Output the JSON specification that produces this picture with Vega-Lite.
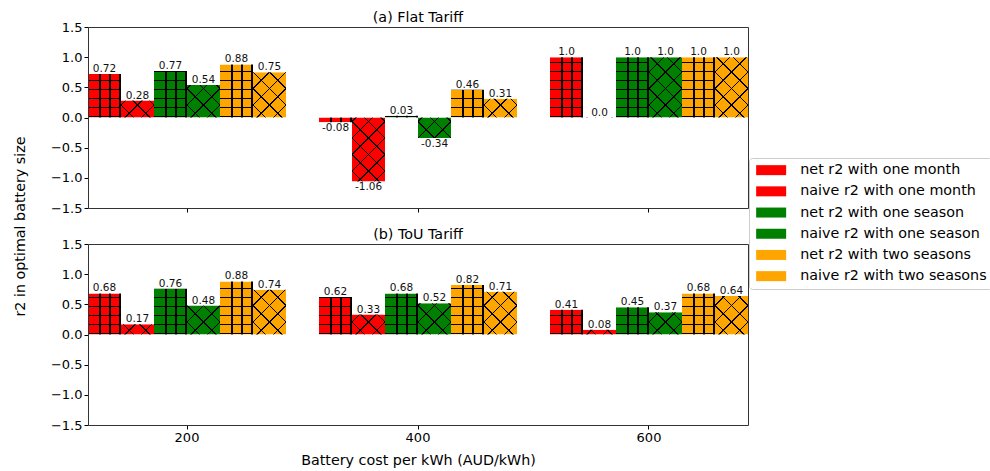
{
  "$schema": "https://vega.github.io/schema/vega-lite/v6.json",
  "padding": {"left": 13, "top": 10, "right": 2, "bottom": 5},
  "bounds": "flush",
  "spacing": 36,
  "config": {
    "font": "DejaVu Sans",
    "view": {"stroke": null},
    "axis": {"labelFont": "DejaVu Sans", "labelFontSize": 13, "labelColor": "#000", "titleFont": "DejaVu Sans", "titleFontSize": 14.3, "titleFontWeight": "normal", "titleColor": "#000", "tickColor": "#000", "tickSize": 4, "domain": true, "domainColor": "#333", "domainWidth": 1, "grid": false, "labelPadding": 2},
    "title": {"font": "DejaVu Sans", "fontSize": 14.3, "fontWeight": "normal", "color": "#000", "offset": -4},
    "legend": {"labelFont": "DejaVu Sans", "labelFontSize": 14.3, "labelColor": "#000", "labelLimit": 400, "symbolType": "M-1,-1H5V1H-1Z", "symbolSize": 100, "symbolStrokeWidth": 0, "symbolOpacity": 1, "labelOffset": 32, "rowPadding": 6.2, "padding": 5, "strokeColor": "#cccccc", "cornerRadius": 3, "fillColor": "#ffffff"}
  },
  "data": {"values": [
    {"tariff": "Flat", "cost": 200, "series": "net r2 with one month", "type": "net", "value": 0.72, "label": "0.72"},
    {"tariff": "Flat", "cost": 200, "series": "naive r2 with one month", "type": "naive", "value": 0.28, "label": "0.28"},
    {"tariff": "Flat", "cost": 200, "series": "net r2 with one season", "type": "net", "value": 0.77, "label": "0.77"},
    {"tariff": "Flat", "cost": 200, "series": "naive r2 with one season", "type": "naive", "value": 0.54, "label": "0.54"},
    {"tariff": "Flat", "cost": 200, "series": "net r2 with two seasons", "type": "net", "value": 0.88, "label": "0.88"},
    {"tariff": "Flat", "cost": 200, "series": "naive r2 with two seasons", "type": "naive", "value": 0.75, "label": "0.75"},
    {"tariff": "Flat", "cost": 400, "series": "net r2 with one month", "type": "net", "value": -0.08, "label": "-0.08"},
    {"tariff": "Flat", "cost": 400, "series": "naive r2 with one month", "type": "naive", "value": -1.06, "label": "-1.06"},
    {"tariff": "Flat", "cost": 400, "series": "net r2 with one season", "type": "net", "value": 0.03, "label": "0.03"},
    {"tariff": "Flat", "cost": 400, "series": "naive r2 with one season", "type": "naive", "value": -0.34, "label": "-0.34"},
    {"tariff": "Flat", "cost": 400, "series": "net r2 with two seasons", "type": "net", "value": 0.46, "label": "0.46"},
    {"tariff": "Flat", "cost": 400, "series": "naive r2 with two seasons", "type": "naive", "value": 0.31, "label": "0.31"},
    {"tariff": "Flat", "cost": 600, "series": "net r2 with one month", "type": "net", "value": 1.0, "label": "1.0"},
    {"tariff": "Flat", "cost": 600, "series": "naive r2 with one month", "type": "naive", "value": 0.0, "label": "0.0"},
    {"tariff": "Flat", "cost": 600, "series": "net r2 with one season", "type": "net", "value": 1.0, "label": "1.0"},
    {"tariff": "Flat", "cost": 600, "series": "naive r2 with one season", "type": "naive", "value": 1.0, "label": "1.0"},
    {"tariff": "Flat", "cost": 600, "series": "net r2 with two seasons", "type": "net", "value": 1.0, "label": "1.0"},
    {"tariff": "Flat", "cost": 600, "series": "naive r2 with two seasons", "type": "naive", "value": 1.0, "label": "1.0"},
    {"tariff": "ToU", "cost": 200, "series": "net r2 with one month", "type": "net", "value": 0.68, "label": "0.68"},
    {"tariff": "ToU", "cost": 200, "series": "naive r2 with one month", "type": "naive", "value": 0.17, "label": "0.17"},
    {"tariff": "ToU", "cost": 200, "series": "net r2 with one season", "type": "net", "value": 0.76, "label": "0.76"},
    {"tariff": "ToU", "cost": 200, "series": "naive r2 with one season", "type": "naive", "value": 0.48, "label": "0.48"},
    {"tariff": "ToU", "cost": 200, "series": "net r2 with two seasons", "type": "net", "value": 0.88, "label": "0.88"},
    {"tariff": "ToU", "cost": 200, "series": "naive r2 with two seasons", "type": "naive", "value": 0.74, "label": "0.74"},
    {"tariff": "ToU", "cost": 400, "series": "net r2 with one month", "type": "net", "value": 0.62, "label": "0.62"},
    {"tariff": "ToU", "cost": 400, "series": "naive r2 with one month", "type": "naive", "value": 0.33, "label": "0.33"},
    {"tariff": "ToU", "cost": 400, "series": "net r2 with one season", "type": "net", "value": 0.68, "label": "0.68"},
    {"tariff": "ToU", "cost": 400, "series": "naive r2 with one season", "type": "naive", "value": 0.52, "label": "0.52"},
    {"tariff": "ToU", "cost": 400, "series": "net r2 with two seasons", "type": "net", "value": 0.82, "label": "0.82"},
    {"tariff": "ToU", "cost": 400, "series": "naive r2 with two seasons", "type": "naive", "value": 0.71, "label": "0.71"},
    {"tariff": "ToU", "cost": 600, "series": "net r2 with one month", "type": "net", "value": 0.41, "label": "0.41"},
    {"tariff": "ToU", "cost": 600, "series": "naive r2 with one month", "type": "naive", "value": 0.08, "label": "0.08"},
    {"tariff": "ToU", "cost": 600, "series": "net r2 with one season", "type": "net", "value": 0.45, "label": "0.45"},
    {"tariff": "ToU", "cost": 600, "series": "naive r2 with one season", "type": "naive", "value": 0.37, "label": "0.37"},
    {"tariff": "ToU", "cost": 600, "series": "net r2 with two seasons", "type": "net", "value": 0.68, "label": "0.68"},
    {"tariff": "ToU", "cost": 600, "series": "naive r2 with two seasons", "type": "naive", "value": 0.64, "label": "0.64"}
  ]},
  "resolve": {"scale": {"color": "shared"}, "legend": {"color": "shared"}},
  "vconcat": [
    {
      "title": "(a) Flat Tariff",
      "width": 660,
      "height": 181,
      "transform": [{"filter": "datum.tariff == 'Flat'"}],
      "resolve": {"axis": {"x": "independent", "y": "independent"}},
      "encoding": {
        "x": {"field": "cost", "type": "ordinal", "scale": {"paddingInner": 0.142857, "paddingOuter": 0}, "axis": null},
        "xOffset": {"field": "series", "type": "nominal", "scale": {"domain": ["net r2 with one month", "naive r2 with one month", "net r2 with one season", "naive r2 with one season", "net r2 with two seasons", "naive r2 with two seasons"], "paddingInner": 0, "paddingOuter": 0}},
        "y": {"field": "value", "type": "quantitative", "scale": {"domain": [-1.5, 1.5], "nice": false, "zero": false}, "axis": null}
      },
      "layer": [
        {"mark": {"type": "bar"}, "encoding": {
          "x": {"field": "cost", "type": "ordinal", "scale": {"paddingInner": 0.142857, "paddingOuter": 0}, "axis": {"orient": "bottom", "labels": false, "title": null, "ticks": true, "zindex": 1}},
          "y": {"field": "value", "type": "quantitative", "scale": {"domain": [-1.5, 1.5], "nice": false, "zero": false}, "axis": {"orient": "left", "values": [-1.5, -1, -0.5, 0, 0.5, 1, 1.5], "format": ".1f", "title": "r2 in optimal battery size", "titleX": -61, "titleY": 199, "zindex": 1}},
          "color": {"field": "series", "type": "nominal", "scale": {"domain": ["net r2 with one month", "naive r2 with one month", "net r2 with one season", "naive r2 with one season", "net r2 with two seasons", "naive r2 with two seasons"], "range": ["#ff0000", "#ff0000", "#008000", "#008000", "#ffa500", "#ffa500"]}, "legend": {"title": null, "orient": "none", "legendX": 661, "legendY": 131}}}},
        {"transform": [{"filter": "datum.type == 'net'"}], "mark": {"type": "bar", "fill": {"gradient": "linear", "x1": 0, "y1": 0, "x2": 0, "y2": 1, "stops": [
          {"offset": 0, "color": "rgba(0,0,0,0)"},
          {"offset": 0.04475, "color": "rgba(0,0,0,0)"}, {"offset": 0.04475, "color": "#000"}, {"offset": 0.05138, "color": "#000"}, {"offset": 0.05138, "color": "rgba(0,0,0,0)"},
          {"offset": 0.09448, "color": "rgba(0,0,0,0)"}, {"offset": 0.09448, "color": "#000"}, {"offset": 0.10110, "color": "#000"}, {"offset": 0.10110, "color": "rgba(0,0,0,0)"},
          {"offset": 0.14420, "color": "rgba(0,0,0,0)"}, {"offset": 0.14420, "color": "#000"}, {"offset": 0.15083, "color": "#000"}, {"offset": 0.15083, "color": "rgba(0,0,0,0)"},
          {"offset": 0.19392, "color": "rgba(0,0,0,0)"}, {"offset": 0.19392, "color": "#000"}, {"offset": 0.20055, "color": "#000"}, {"offset": 0.20055, "color": "rgba(0,0,0,0)"},
          {"offset": 0.24365, "color": "rgba(0,0,0,0)"}, {"offset": 0.24365, "color": "#000"}, {"offset": 0.25028, "color": "#000"}, {"offset": 0.25028, "color": "rgba(0,0,0,0)"},
          {"offset": 0.29337, "color": "rgba(0,0,0,0)"}, {"offset": 0.29337, "color": "#000"}, {"offset": 0.30000, "color": "#000"}, {"offset": 0.30000, "color": "rgba(0,0,0,0)"},
          {"offset": 0.34309, "color": "rgba(0,0,0,0)"}, {"offset": 0.34309, "color": "#000"}, {"offset": 0.34972, "color": "#000"}, {"offset": 0.34972, "color": "rgba(0,0,0,0)"},
          {"offset": 0.39282, "color": "rgba(0,0,0,0)"}, {"offset": 0.39282, "color": "#000"}, {"offset": 0.39945, "color": "#000"}, {"offset": 0.39945, "color": "rgba(0,0,0,0)"},
          {"offset": 0.44254, "color": "rgba(0,0,0,0)"}, {"offset": 0.44254, "color": "#000"}, {"offset": 0.44917, "color": "#000"}, {"offset": 0.44917, "color": "rgba(0,0,0,0)"},
          {"offset": 0.49227, "color": "rgba(0,0,0,0)"}, {"offset": 0.49227, "color": "#000"}, {"offset": 0.49890, "color": "#000"}, {"offset": 0.49890, "color": "rgba(0,0,0,0)"},
          {"offset": 0.54199, "color": "rgba(0,0,0,0)"}, {"offset": 0.54199, "color": "#000"}, {"offset": 0.54862, "color": "#000"}, {"offset": 0.54862, "color": "rgba(0,0,0,0)"},
          {"offset": 0.59171, "color": "rgba(0,0,0,0)"}, {"offset": 0.59171, "color": "#000"}, {"offset": 0.59834, "color": "#000"}, {"offset": 0.59834, "color": "rgba(0,0,0,0)"},
          {"offset": 0.64144, "color": "rgba(0,0,0,0)"}, {"offset": 0.64144, "color": "#000"}, {"offset": 0.64807, "color": "#000"}, {"offset": 0.64807, "color": "rgba(0,0,0,0)"},
          {"offset": 0.69116, "color": "rgba(0,0,0,0)"}, {"offset": 0.69116, "color": "#000"}, {"offset": 0.69779, "color": "#000"}, {"offset": 0.69779, "color": "rgba(0,0,0,0)"},
          {"offset": 0.74088, "color": "rgba(0,0,0,0)"}, {"offset": 0.74088, "color": "#000"}, {"offset": 0.74751, "color": "#000"}, {"offset": 0.74751, "color": "rgba(0,0,0,0)"},
          {"offset": 0.79061, "color": "rgba(0,0,0,0)"}, {"offset": 0.79061, "color": "#000"}, {"offset": 0.79724, "color": "#000"}, {"offset": 0.79724, "color": "rgba(0,0,0,0)"},
          {"offset": 0.84033, "color": "rgba(0,0,0,0)"}, {"offset": 0.84033, "color": "#000"}, {"offset": 0.84696, "color": "#000"}, {"offset": 0.84696, "color": "rgba(0,0,0,0)"},
          {"offset": 0.89006, "color": "rgba(0,0,0,0)"}, {"offset": 0.89006, "color": "#000"}, {"offset": 0.89669, "color": "#000"}, {"offset": 0.89669, "color": "rgba(0,0,0,0)"},
          {"offset": 0.93978, "color": "rgba(0,0,0,0)"}, {"offset": 0.93978, "color": "#000"}, {"offset": 0.94641, "color": "#000"}, {"offset": 0.94641, "color": "rgba(0,0,0,0)"},
          {"offset": 0.98950, "color": "rgba(0,0,0,0)"}, {"offset": 0.98950, "color": "#000"}, {"offset": 0.99613, "color": "#000"}, {"offset": 0.99613, "color": "rgba(0,0,0,0)"},
          {"offset": 1, "color": "rgba(0,0,0,0)"}]}}, "encoding": {"y": {"datum": -1.5}, "y2": {"datum": 1.5}}},
        {"transform": [{"filter": "datum.type == 'net'"}], "mark": {"type": "bar", "fill": {"gradient": "linear", "x1": 0, "y1": 0, "x2": 1, "y2": 0, "stops": [
          {"offset": 0, "color": "rgba(0,0,0,0)"},
          {"offset": 0.34545, "color": "rgba(0,0,0,0)"}, {"offset": 0.34545, "color": "#000"}, {"offset": 0.38182, "color": "#000"}, {"offset": 0.38182, "color": "rgba(0,0,0,0)"},
          {"offset": 0.64848, "color": "rgba(0,0,0,0)"}, {"offset": 0.64848, "color": "#000"}, {"offset": 0.68485, "color": "#000"}, {"offset": 0.68485, "color": "rgba(0,0,0,0)"},
          {"offset": 0.95152, "color": "rgba(0,0,0,0)"}, {"offset": 0.95152, "color": "#000"}, {"offset": 0.98788, "color": "#000"}, {"offset": 0.98788, "color": "rgba(0,0,0,0)"},
          {"offset": 1, "color": "rgba(0,0,0,0)"}]}}, "encoding": {"y": {"datum": -1.5}, "y2": {"datum": 1.5}}},
        {"transform": [{"filter": "datum.type == 'naive'"}], "mark": {"type": "bar", "fill": {"gradient": "linear", "x1": 0, "y1": 0, "x2": 0.2086, "y2": 1.1443, "stops": [
          {"offset": 0, "color": "rgba(0,0,0,0)"},
          {"offset": 0.05210, "color": "rgba(0,0,0,0)"}, {"offset": 0.05210, "color": "#000"}, {"offset": 0.06005, "color": "#000"}, {"offset": 0.06005, "color": "rgba(0,0,0,0)"},
          {"offset": 0.12921, "color": "rgba(0,0,0,0)"}, {"offset": 0.12921, "color": "#000"}, {"offset": 0.13715, "color": "#000"}, {"offset": 0.13715, "color": "rgba(0,0,0,0)"},
          {"offset": 0.20631, "color": "rgba(0,0,0,0)"}, {"offset": 0.20631, "color": "#000"}, {"offset": 0.21425, "color": "#000"}, {"offset": 0.21425, "color": "rgba(0,0,0,0)"},
          {"offset": 0.28341, "color": "rgba(0,0,0,0)"}, {"offset": 0.28341, "color": "#000"}, {"offset": 0.29136, "color": "#000"}, {"offset": 0.29136, "color": "rgba(0,0,0,0)"},
          {"offset": 0.36051, "color": "rgba(0,0,0,0)"}, {"offset": 0.36051, "color": "#000"}, {"offset": 0.36846, "color": "#000"}, {"offset": 0.36846, "color": "rgba(0,0,0,0)"},
          {"offset": 0.43762, "color": "rgba(0,0,0,0)"}, {"offset": 0.43762, "color": "#000"}, {"offset": 0.44556, "color": "#000"}, {"offset": 0.44556, "color": "rgba(0,0,0,0)"},
          {"offset": 0.51472, "color": "rgba(0,0,0,0)"}, {"offset": 0.51472, "color": "#000"}, {"offset": 0.52266, "color": "#000"}, {"offset": 0.52266, "color": "rgba(0,0,0,0)"},
          {"offset": 0.59182, "color": "rgba(0,0,0,0)"}, {"offset": 0.59182, "color": "#000"}, {"offset": 0.59977, "color": "#000"}, {"offset": 0.59977, "color": "rgba(0,0,0,0)"},
          {"offset": 0.66893, "color": "rgba(0,0,0,0)"}, {"offset": 0.66893, "color": "#000"}, {"offset": 0.67687, "color": "#000"}, {"offset": 0.67687, "color": "rgba(0,0,0,0)"},
          {"offset": 0.74603, "color": "rgba(0,0,0,0)"}, {"offset": 0.74603, "color": "#000"}, {"offset": 0.75397, "color": "#000"}, {"offset": 0.75397, "color": "rgba(0,0,0,0)"},
          {"offset": 0.82313, "color": "rgba(0,0,0,0)"}, {"offset": 0.82313, "color": "#000"}, {"offset": 0.83107, "color": "#000"}, {"offset": 0.83107, "color": "rgba(0,0,0,0)"},
          {"offset": 0.90023, "color": "rgba(0,0,0,0)"}, {"offset": 0.90023, "color": "#000"}, {"offset": 0.90818, "color": "#000"}, {"offset": 0.90818, "color": "rgba(0,0,0,0)"},
          {"offset": 0.97734, "color": "rgba(0,0,0,0)"}, {"offset": 0.97734, "color": "#000"}, {"offset": 0.98528, "color": "#000"}, {"offset": 0.98528, "color": "rgba(0,0,0,0)"},
          {"offset": 1, "color": "rgba(0,0,0,0)"}]}}, "encoding": {"y": {"datum": -1.5}, "y2": {"datum": 1.5}}},
        {"transform": [{"filter": "datum.type == 'naive'"}], "mark": {"type": "bar", "fill": {"gradient": "linear", "x1": 0, "y1": 1, "x2": 0.2086, "y2": -0.1443, "stops": [
          {"offset": 0, "color": "rgba(0,0,0,0)"},
          {"offset": 0.01472, "color": "rgba(0,0,0,0)"}, {"offset": 0.01472, "color": "#000"}, {"offset": 0.02266, "color": "#000"}, {"offset": 0.02266, "color": "rgba(0,0,0,0)"},
          {"offset": 0.09182, "color": "rgba(0,0,0,0)"}, {"offset": 0.09182, "color": "#000"}, {"offset": 0.09977, "color": "#000"}, {"offset": 0.09977, "color": "rgba(0,0,0,0)"},
          {"offset": 0.16893, "color": "rgba(0,0,0,0)"}, {"offset": 0.16893, "color": "#000"}, {"offset": 0.17687, "color": "#000"}, {"offset": 0.17687, "color": "rgba(0,0,0,0)"},
          {"offset": 0.24603, "color": "rgba(0,0,0,0)"}, {"offset": 0.24603, "color": "#000"}, {"offset": 0.25397, "color": "#000"}, {"offset": 0.25397, "color": "rgba(0,0,0,0)"},
          {"offset": 0.32313, "color": "rgba(0,0,0,0)"}, {"offset": 0.32313, "color": "#000"}, {"offset": 0.33107, "color": "#000"}, {"offset": 0.33107, "color": "rgba(0,0,0,0)"},
          {"offset": 0.40023, "color": "rgba(0,0,0,0)"}, {"offset": 0.40023, "color": "#000"}, {"offset": 0.40818, "color": "#000"}, {"offset": 0.40818, "color": "rgba(0,0,0,0)"},
          {"offset": 0.47734, "color": "rgba(0,0,0,0)"}, {"offset": 0.47734, "color": "#000"}, {"offset": 0.48528, "color": "#000"}, {"offset": 0.48528, "color": "rgba(0,0,0,0)"},
          {"offset": 0.55444, "color": "rgba(0,0,0,0)"}, {"offset": 0.55444, "color": "#000"}, {"offset": 0.56238, "color": "#000"}, {"offset": 0.56238, "color": "rgba(0,0,0,0)"},
          {"offset": 0.63154, "color": "rgba(0,0,0,0)"}, {"offset": 0.63154, "color": "#000"}, {"offset": 0.63949, "color": "#000"}, {"offset": 0.63949, "color": "rgba(0,0,0,0)"},
          {"offset": 0.70864, "color": "rgba(0,0,0,0)"}, {"offset": 0.70864, "color": "#000"}, {"offset": 0.71659, "color": "#000"}, {"offset": 0.71659, "color": "rgba(0,0,0,0)"},
          {"offset": 0.78575, "color": "rgba(0,0,0,0)"}, {"offset": 0.78575, "color": "#000"}, {"offset": 0.79369, "color": "#000"}, {"offset": 0.79369, "color": "rgba(0,0,0,0)"},
          {"offset": 0.86285, "color": "rgba(0,0,0,0)"}, {"offset": 0.86285, "color": "#000"}, {"offset": 0.87079, "color": "#000"}, {"offset": 0.87079, "color": "rgba(0,0,0,0)"},
          {"offset": 0.93995, "color": "rgba(0,0,0,0)"}, {"offset": 0.93995, "color": "#000"}, {"offset": 0.94790, "color": "#000"}, {"offset": 0.94790, "color": "rgba(0,0,0,0)"},
          {"offset": 1, "color": "rgba(0,0,0,0)"}]}}, "encoding": {"y": {"datum": -1.5}, "y2": {"datum": 1.5}}},
        {"transform": [{"filter": "datum.value >= 0"}], "mark": {"type": "bar", "fill": "#ffffff"}, "encoding": {"y2": {"datum": 1.5}}},
        {"transform": [{"filter": "datum.value < 0"}], "mark": {"type": "bar", "fill": "#ffffff"}, "encoding": {"y": {"datum": 0}, "y2": {"datum": 1.5}}},
        {"transform": [{"filter": "datum.value >= 0"}], "mark": {"type": "bar", "fill": "#ffffff"}, "encoding": {"y": {"datum": 0}, "y2": {"datum": -1.5}}},
        {"transform": [{"filter": "datum.value < 0"}], "mark": {"type": "bar", "fill": "#ffffff"}, "encoding": {"y2": {"datum": -1.5}}},
        {"transform": [{"filter": "datum.value >= 0"}], "mark": {"type": "text", "baseline": "alphabetic", "dy": -2, "fontSize": 10.5, "color": "#111"}, "encoding": {
          "x": {"field": "cost", "type": "ordinal", "scale": {"paddingInner": 0.142857, "paddingOuter": 0}, "axis": {"orient": "top", "labels": false, "ticks": false, "title": null, "zindex": 1}},
          "y": {"field": "value", "type": "quantitative", "scale": {"domain": [-1.5, 1.5], "nice": false, "zero": false}, "axis": {"orient": "right", "labels": false, "ticks": false, "title": null, "zindex": 1}},
          "text": {"field": "label"}}},
        {"transform": [{"filter": "datum.value < 0"}], "mark": {"type": "text", "baseline": "top", "dy": 1, "fontSize": 10.5, "color": "#111"}, "encoding": {"text": {"field": "label"}}}
      ]
    },
    {
      "title": "(b) ToU Tariff",
      "width": 660,
      "height": 181,
      "transform": [{"filter": "datum.tariff == 'ToU'"}],
      "resolve": {"axis": {"x": "independent", "y": "independent"}},
      "encoding": {
        "x": {"field": "cost", "type": "ordinal", "scale": {"paddingInner": 0.142857, "paddingOuter": 0}, "axis": null},
        "xOffset": {"field": "series", "type": "nominal", "scale": {"domain": ["net r2 with one month", "naive r2 with one month", "net r2 with one season", "naive r2 with one season", "net r2 with two seasons", "naive r2 with two seasons"], "paddingInner": 0, "paddingOuter": 0}},
        "y": {"field": "value", "type": "quantitative", "scale": {"domain": [-1.5, 1.5], "nice": false, "zero": false}, "axis": null}
      },
      "layer": [
        {"mark": {"type": "bar"}, "encoding": {
          "x": {"field": "cost", "type": "ordinal", "scale": {"paddingInner": 0.142857, "paddingOuter": 0}, "axis": {"orient": "bottom", "labelAngle": 0, "title": "Battery cost per kWh (AUD/kWh)", "titlePadding": 9, "zindex": 1}},
          "y": {"field": "value", "type": "quantitative", "scale": {"domain": [-1.5, 1.5], "nice": false, "zero": false}, "axis": {"orient": "left", "values": [-1.5, -1, -0.5, 0, 0.5, 1, 1.5], "format": ".1f", "title": null, "zindex": 1}},
          "color": {"field": "series", "type": "nominal", "scale": {"domain": ["net r2 with one month", "naive r2 with one month", "net r2 with one season", "naive r2 with one season", "net r2 with two seasons", "naive r2 with two seasons"], "range": ["#ff0000", "#ff0000", "#008000", "#008000", "#ffa500", "#ffa500"]}, "legend": {"title": null, "orient": "none", "legendX": 661, "legendY": 131}}}},
        {"transform": [{"filter": "datum.type == 'net'"}], "mark": {"type": "bar", "fill": {"gradient": "linear", "x1": 0, "y1": 0, "x2": 0, "y2": 1, "stops": [
          {"offset": 0, "color": "rgba(0,0,0,0)"},
          {"offset": 0.04475, "color": "rgba(0,0,0,0)"}, {"offset": 0.04475, "color": "#000"}, {"offset": 0.05138, "color": "#000"}, {"offset": 0.05138, "color": "rgba(0,0,0,0)"},
          {"offset": 0.09448, "color": "rgba(0,0,0,0)"}, {"offset": 0.09448, "color": "#000"}, {"offset": 0.10110, "color": "#000"}, {"offset": 0.10110, "color": "rgba(0,0,0,0)"},
          {"offset": 0.14420, "color": "rgba(0,0,0,0)"}, {"offset": 0.14420, "color": "#000"}, {"offset": 0.15083, "color": "#000"}, {"offset": 0.15083, "color": "rgba(0,0,0,0)"},
          {"offset": 0.19392, "color": "rgba(0,0,0,0)"}, {"offset": 0.19392, "color": "#000"}, {"offset": 0.20055, "color": "#000"}, {"offset": 0.20055, "color": "rgba(0,0,0,0)"},
          {"offset": 0.24365, "color": "rgba(0,0,0,0)"}, {"offset": 0.24365, "color": "#000"}, {"offset": 0.25028, "color": "#000"}, {"offset": 0.25028, "color": "rgba(0,0,0,0)"},
          {"offset": 0.29337, "color": "rgba(0,0,0,0)"}, {"offset": 0.29337, "color": "#000"}, {"offset": 0.30000, "color": "#000"}, {"offset": 0.30000, "color": "rgba(0,0,0,0)"},
          {"offset": 0.34309, "color": "rgba(0,0,0,0)"}, {"offset": 0.34309, "color": "#000"}, {"offset": 0.34972, "color": "#000"}, {"offset": 0.34972, "color": "rgba(0,0,0,0)"},
          {"offset": 0.39282, "color": "rgba(0,0,0,0)"}, {"offset": 0.39282, "color": "#000"}, {"offset": 0.39945, "color": "#000"}, {"offset": 0.39945, "color": "rgba(0,0,0,0)"},
          {"offset": 0.44254, "color": "rgba(0,0,0,0)"}, {"offset": 0.44254, "color": "#000"}, {"offset": 0.44917, "color": "#000"}, {"offset": 0.44917, "color": "rgba(0,0,0,0)"},
          {"offset": 0.49227, "color": "rgba(0,0,0,0)"}, {"offset": 0.49227, "color": "#000"}, {"offset": 0.49890, "color": "#000"}, {"offset": 0.49890, "color": "rgba(0,0,0,0)"},
          {"offset": 0.54199, "color": "rgba(0,0,0,0)"}, {"offset": 0.54199, "color": "#000"}, {"offset": 0.54862, "color": "#000"}, {"offset": 0.54862, "color": "rgba(0,0,0,0)"},
          {"offset": 0.59171, "color": "rgba(0,0,0,0)"}, {"offset": 0.59171, "color": "#000"}, {"offset": 0.59834, "color": "#000"}, {"offset": 0.59834, "color": "rgba(0,0,0,0)"},
          {"offset": 0.64144, "color": "rgba(0,0,0,0)"}, {"offset": 0.64144, "color": "#000"}, {"offset": 0.64807, "color": "#000"}, {"offset": 0.64807, "color": "rgba(0,0,0,0)"},
          {"offset": 0.69116, "color": "rgba(0,0,0,0)"}, {"offset": 0.69116, "color": "#000"}, {"offset": 0.69779, "color": "#000"}, {"offset": 0.69779, "color": "rgba(0,0,0,0)"},
          {"offset": 0.74088, "color": "rgba(0,0,0,0)"}, {"offset": 0.74088, "color": "#000"}, {"offset": 0.74751, "color": "#000"}, {"offset": 0.74751, "color": "rgba(0,0,0,0)"},
          {"offset": 0.79061, "color": "rgba(0,0,0,0)"}, {"offset": 0.79061, "color": "#000"}, {"offset": 0.79724, "color": "#000"}, {"offset": 0.79724, "color": "rgba(0,0,0,0)"},
          {"offset": 0.84033, "color": "rgba(0,0,0,0)"}, {"offset": 0.84033, "color": "#000"}, {"offset": 0.84696, "color": "#000"}, {"offset": 0.84696, "color": "rgba(0,0,0,0)"},
          {"offset": 0.89006, "color": "rgba(0,0,0,0)"}, {"offset": 0.89006, "color": "#000"}, {"offset": 0.89669, "color": "#000"}, {"offset": 0.89669, "color": "rgba(0,0,0,0)"},
          {"offset": 0.93978, "color": "rgba(0,0,0,0)"}, {"offset": 0.93978, "color": "#000"}, {"offset": 0.94641, "color": "#000"}, {"offset": 0.94641, "color": "rgba(0,0,0,0)"},
          {"offset": 0.98950, "color": "rgba(0,0,0,0)"}, {"offset": 0.98950, "color": "#000"}, {"offset": 0.99613, "color": "#000"}, {"offset": 0.99613, "color": "rgba(0,0,0,0)"},
          {"offset": 1, "color": "rgba(0,0,0,0)"}]}}, "encoding": {"y": {"datum": -1.5}, "y2": {"datum": 1.5}}},
        {"transform": [{"filter": "datum.type == 'net'"}], "mark": {"type": "bar", "fill": {"gradient": "linear", "x1": 0, "y1": 0, "x2": 1, "y2": 0, "stops": [
          {"offset": 0, "color": "rgba(0,0,0,0)"},
          {"offset": 0.34545, "color": "rgba(0,0,0,0)"}, {"offset": 0.34545, "color": "#000"}, {"offset": 0.38182, "color": "#000"}, {"offset": 0.38182, "color": "rgba(0,0,0,0)"},
          {"offset": 0.64848, "color": "rgba(0,0,0,0)"}, {"offset": 0.64848, "color": "#000"}, {"offset": 0.68485, "color": "#000"}, {"offset": 0.68485, "color": "rgba(0,0,0,0)"},
          {"offset": 0.95152, "color": "rgba(0,0,0,0)"}, {"offset": 0.95152, "color": "#000"}, {"offset": 0.98788, "color": "#000"}, {"offset": 0.98788, "color": "rgba(0,0,0,0)"},
          {"offset": 1, "color": "rgba(0,0,0,0)"}]}}, "encoding": {"y": {"datum": -1.5}, "y2": {"datum": 1.5}}},
        {"transform": [{"filter": "datum.type == 'naive'"}], "mark": {"type": "bar", "fill": {"gradient": "linear", "x1": 0, "y1": 0, "x2": 0.2086, "y2": 1.1443, "stops": [
          {"offset": 0, "color": "rgba(0,0,0,0)"},
          {"offset": 0.05210, "color": "rgba(0,0,0,0)"}, {"offset": 0.05210, "color": "#000"}, {"offset": 0.06005, "color": "#000"}, {"offset": 0.06005, "color": "rgba(0,0,0,0)"},
          {"offset": 0.12921, "color": "rgba(0,0,0,0)"}, {"offset": 0.12921, "color": "#000"}, {"offset": 0.13715, "color": "#000"}, {"offset": 0.13715, "color": "rgba(0,0,0,0)"},
          {"offset": 0.20631, "color": "rgba(0,0,0,0)"}, {"offset": 0.20631, "color": "#000"}, {"offset": 0.21425, "color": "#000"}, {"offset": 0.21425, "color": "rgba(0,0,0,0)"},
          {"offset": 0.28341, "color": "rgba(0,0,0,0)"}, {"offset": 0.28341, "color": "#000"}, {"offset": 0.29136, "color": "#000"}, {"offset": 0.29136, "color": "rgba(0,0,0,0)"},
          {"offset": 0.36051, "color": "rgba(0,0,0,0)"}, {"offset": 0.36051, "color": "#000"}, {"offset": 0.36846, "color": "#000"}, {"offset": 0.36846, "color": "rgba(0,0,0,0)"},
          {"offset": 0.43762, "color": "rgba(0,0,0,0)"}, {"offset": 0.43762, "color": "#000"}, {"offset": 0.44556, "color": "#000"}, {"offset": 0.44556, "color": "rgba(0,0,0,0)"},
          {"offset": 0.51472, "color": "rgba(0,0,0,0)"}, {"offset": 0.51472, "color": "#000"}, {"offset": 0.52266, "color": "#000"}, {"offset": 0.52266, "color": "rgba(0,0,0,0)"},
          {"offset": 0.59182, "color": "rgba(0,0,0,0)"}, {"offset": 0.59182, "color": "#000"}, {"offset": 0.59977, "color": "#000"}, {"offset": 0.59977, "color": "rgba(0,0,0,0)"},
          {"offset": 0.66893, "color": "rgba(0,0,0,0)"}, {"offset": 0.66893, "color": "#000"}, {"offset": 0.67687, "color": "#000"}, {"offset": 0.67687, "color": "rgba(0,0,0,0)"},
          {"offset": 0.74603, "color": "rgba(0,0,0,0)"}, {"offset": 0.74603, "color": "#000"}, {"offset": 0.75397, "color": "#000"}, {"offset": 0.75397, "color": "rgba(0,0,0,0)"},
          {"offset": 0.82313, "color": "rgba(0,0,0,0)"}, {"offset": 0.82313, "color": "#000"}, {"offset": 0.83107, "color": "#000"}, {"offset": 0.83107, "color": "rgba(0,0,0,0)"},
          {"offset": 0.90023, "color": "rgba(0,0,0,0)"}, {"offset": 0.90023, "color": "#000"}, {"offset": 0.90818, "color": "#000"}, {"offset": 0.90818, "color": "rgba(0,0,0,0)"},
          {"offset": 0.97734, "color": "rgba(0,0,0,0)"}, {"offset": 0.97734, "color": "#000"}, {"offset": 0.98528, "color": "#000"}, {"offset": 0.98528, "color": "rgba(0,0,0,0)"},
          {"offset": 1, "color": "rgba(0,0,0,0)"}]}}, "encoding": {"y": {"datum": -1.5}, "y2": {"datum": 1.5}}},
        {"transform": [{"filter": "datum.type == 'naive'"}], "mark": {"type": "bar", "fill": {"gradient": "linear", "x1": 0, "y1": 1, "x2": 0.2086, "y2": -0.1443, "stops": [
          {"offset": 0, "color": "rgba(0,0,0,0)"},
          {"offset": 0.01472, "color": "rgba(0,0,0,0)"}, {"offset": 0.01472, "color": "#000"}, {"offset": 0.02266, "color": "#000"}, {"offset": 0.02266, "color": "rgba(0,0,0,0)"},
          {"offset": 0.09182, "color": "rgba(0,0,0,0)"}, {"offset": 0.09182, "color": "#000"}, {"offset": 0.09977, "color": "#000"}, {"offset": 0.09977, "color": "rgba(0,0,0,0)"},
          {"offset": 0.16893, "color": "rgba(0,0,0,0)"}, {"offset": 0.16893, "color": "#000"}, {"offset": 0.17687, "color": "#000"}, {"offset": 0.17687, "color": "rgba(0,0,0,0)"},
          {"offset": 0.24603, "color": "rgba(0,0,0,0)"}, {"offset": 0.24603, "color": "#000"}, {"offset": 0.25397, "color": "#000"}, {"offset": 0.25397, "color": "rgba(0,0,0,0)"},
          {"offset": 0.32313, "color": "rgba(0,0,0,0)"}, {"offset": 0.32313, "color": "#000"}, {"offset": 0.33107, "color": "#000"}, {"offset": 0.33107, "color": "rgba(0,0,0,0)"},
          {"offset": 0.40023, "color": "rgba(0,0,0,0)"}, {"offset": 0.40023, "color": "#000"}, {"offset": 0.40818, "color": "#000"}, {"offset": 0.40818, "color": "rgba(0,0,0,0)"},
          {"offset": 0.47734, "color": "rgba(0,0,0,0)"}, {"offset": 0.47734, "color": "#000"}, {"offset": 0.48528, "color": "#000"}, {"offset": 0.48528, "color": "rgba(0,0,0,0)"},
          {"offset": 0.55444, "color": "rgba(0,0,0,0)"}, {"offset": 0.55444, "color": "#000"}, {"offset": 0.56238, "color": "#000"}, {"offset": 0.56238, "color": "rgba(0,0,0,0)"},
          {"offset": 0.63154, "color": "rgba(0,0,0,0)"}, {"offset": 0.63154, "color": "#000"}, {"offset": 0.63949, "color": "#000"}, {"offset": 0.63949, "color": "rgba(0,0,0,0)"},
          {"offset": 0.70864, "color": "rgba(0,0,0,0)"}, {"offset": 0.70864, "color": "#000"}, {"offset": 0.71659, "color": "#000"}, {"offset": 0.71659, "color": "rgba(0,0,0,0)"},
          {"offset": 0.78575, "color": "rgba(0,0,0,0)"}, {"offset": 0.78575, "color": "#000"}, {"offset": 0.79369, "color": "#000"}, {"offset": 0.79369, "color": "rgba(0,0,0,0)"},
          {"offset": 0.86285, "color": "rgba(0,0,0,0)"}, {"offset": 0.86285, "color": "#000"}, {"offset": 0.87079, "color": "#000"}, {"offset": 0.87079, "color": "rgba(0,0,0,0)"},
          {"offset": 0.93995, "color": "rgba(0,0,0,0)"}, {"offset": 0.93995, "color": "#000"}, {"offset": 0.94790, "color": "#000"}, {"offset": 0.94790, "color": "rgba(0,0,0,0)"},
          {"offset": 1, "color": "rgba(0,0,0,0)"}]}}, "encoding": {"y": {"datum": -1.5}, "y2": {"datum": 1.5}}},
        {"transform": [{"filter": "datum.value >= 0"}], "mark": {"type": "bar", "fill": "#ffffff"}, "encoding": {"y2": {"datum": 1.5}}},
        {"transform": [{"filter": "datum.value < 0"}], "mark": {"type": "bar", "fill": "#ffffff"}, "encoding": {"y": {"datum": 0}, "y2": {"datum": 1.5}}},
        {"transform": [{"filter": "datum.value >= 0"}], "mark": {"type": "bar", "fill": "#ffffff"}, "encoding": {"y": {"datum": 0}, "y2": {"datum": -1.5}}},
        {"transform": [{"filter": "datum.value < 0"}], "mark": {"type": "bar", "fill": "#ffffff"}, "encoding": {"y2": {"datum": -1.5}}},
        {"transform": [{"filter": "datum.value >= 0"}], "mark": {"type": "text", "baseline": "alphabetic", "dy": -2, "fontSize": 10.5, "color": "#111"}, "encoding": {
          "x": {"field": "cost", "type": "ordinal", "scale": {"paddingInner": 0.142857, "paddingOuter": 0}, "axis": {"orient": "top", "labels": false, "ticks": false, "title": null, "zindex": 1}},
          "y": {"field": "value", "type": "quantitative", "scale": {"domain": [-1.5, 1.5], "nice": false, "zero": false}, "axis": {"orient": "right", "labels": false, "ticks": false, "title": null, "zindex": 1}},
          "text": {"field": "label"}}},
        {"transform": [{"filter": "datum.value < 0"}], "mark": {"type": "text", "baseline": "top", "dy": 1, "fontSize": 10.5, "color": "#111"}, "encoding": {"text": {"field": "label"}}}
      ]
    }
  ]
}
